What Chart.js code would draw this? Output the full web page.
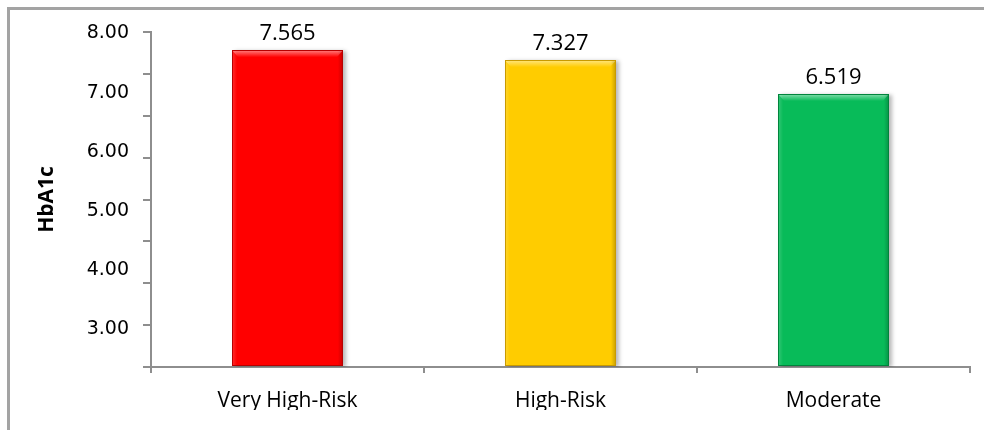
<!DOCTYPE html>
<html>
<head>
<meta charset="utf-8">
<title>HbA1c by risk group</title>
<script src="https://cdn.jsdelivr.net/npm/chart.js@4.4.1/dist/chart.umd.min.js"></script>
<style>
  html, body { margin: 0; padding: 0; background: #ffffff; }
  #frame {
    position: absolute; left: 7px; top: 7px; width: 977px; height: 423px;
    box-sizing: border-box; border-left: 3px solid #a3a3a3; border-top: 3px solid #a3a3a3;
  }
  #clip { position: absolute; left: 0; top: 0; width: 984px; height: 410px; overflow: hidden; }
  #holder { position: relative; width: 984px; height: 430px; }
</style>
</head>
<body>
<div id="frame"></div>
<div id="clip"><div id="holder"><canvas id="chart"></canvas></div></div>
<script>
// Mean HbA1c per cardiovascular risk group
const categories = ['Very High-Risk', 'High-Risk', 'Moderate'];
const hba1cValues = [7.565, 7.327, 6.519];
const yTickLabels = ['3.00', '4.00', '5.00', '6.00', '7.00', '8.00'];

const barColors = ['#ff0000', '#ffcc00', '#08bb59'];
const barEdgeColors = ['#b80000', '#c99a00', '#00843c'];

// Bevel highlight and edge shading on each bar
const bevelPlugin = {
  id: 'bevel',
  beforeDatasetsDraw(chart) {
    const ctx = chart.ctx;
    ctx.save();
    ctx.shadowColor = 'rgba(0,0,0,0.28)';
    ctx.shadowBlur = 4;
    ctx.shadowOffsetX = 3;
    ctx.shadowOffsetY = 1;
  },
  afterDatasetsDraw(chart) {
    const ctx = chart.ctx;
    ctx.restore();
    const meta = chart.getDatasetMeta(0);
    meta.data.forEach((bar, i) => {
      const left = bar.x - bar.width / 2;
      const right = bar.x + bar.width / 2;
      const top = bar.y;
      const bottom = bar.base;
      ctx.save();
      // top bevel
      const g = ctx.createLinearGradient(0, top, 0, top + 7);
      g.addColorStop(0, 'rgba(255,255,255,0.5)');
      g.addColorStop(1, 'rgba(255,255,255,0)');
      ctx.fillStyle = g;
      ctx.beginPath();
      ctx.moveTo(left, top);
      ctx.lineTo(right, top);
      ctx.lineTo(right - 6, top + 7);
      ctx.lineTo(left + 6, top + 7);
      ctx.closePath();
      ctx.fill();
      // side shading
      const gl = ctx.createLinearGradient(left, 0, left + 5, 0);
      gl.addColorStop(0, 'rgba(255,255,255,0.18)');
      gl.addColorStop(1, 'rgba(255,255,255,0)');
      ctx.fillStyle = gl;
      ctx.fillRect(left, top + 1, 5, bottom - top - 1);
      const gr = ctx.createLinearGradient(right - 5, 0, right, 0);
      gr.addColorStop(0, 'rgba(0,0,0,0)');
      gr.addColorStop(1, 'rgba(0,0,0,0.22)');
      ctx.fillStyle = gr;
      ctx.fillRect(right - 5, top + 1, 5, bottom - top - 1);
      // outline
      ctx.strokeStyle = barEdgeColors[i];
      ctx.lineWidth = 1;
      ctx.strokeRect(Math.round(left) + 0.5, Math.round(top) + 0.5,
                     Math.round(right - left) - 1, Math.round(bottom - top) - 1);
      ctx.restore();
    });
  }
};

// Value printed above each bar
const valueLabelPlugin = {
  id: 'valueLabels',
  afterDatasetsDraw(chart) {
    const ctx = chart.ctx;
    const meta = chart.getDatasetMeta(0);
    ctx.save();
    ctx.fillStyle = '#000000';
    ctx.font = '22px "Open Sans"';
    ctx.textAlign = 'center';
    ctx.textBaseline = 'alphabetic';
    meta.data.forEach((bar, i) => {
      ctx.fillText(hba1cValues[i].toFixed(3), bar.x, bar.y - 10);
    });
    ctx.restore();
  }
};

const axisGray = '#8e8e8e';

new Chart(document.getElementById('chart'), {
  type: 'bar',
  data: {
    labels: categories,
    datasets: [{
      data: hba1cValues,
      backgroundColor: barColors,
      borderWidth: 0,
      categoryPercentage: 1.0,
      barPercentage: 0.406
    }]
  },
  options: {
    responsive: true,
    maintainAspectRatio: false,
    devicePixelRatio: 1,
    animation: false,
    layout: { padding: { top: 32, right: 14, left: 0, bottom: 0 } },
    plugins: { legend: { display: false }, tooltip: { enabled: false } },
    scales: {
      x: {
        offset: true,
        grid: { display: true, offset: true, drawOnChartArea: false, drawTicks: true,
                tickLength: 6, color: axisGray, lineWidth: 2 },
        border: { display: true, color: axisGray, width: 2 },
        ticks: { color: '#000000', font: { family: 'Open Sans', size: 21 }, padding: 15,
                 maxRotation: 0, autoSkip: false },
        afterFit(scale) { scale.height = 63; }
      },
      y: {
        position: 'left',
        weight: 0,
        min: 0,
        max: 8,
        ticks: { display: false, stepSize: 1 },
        grid: { display: true, drawOnChartArea: false, drawTicks: true,
                tickLength: 8, color: axisGray, lineWidth: 2 },
        border: { display: true, color: axisGray, width: 2 },
        afterFit(scale) { scale.width = 8; }
      },
      yl: {
        position: 'left',
        weight: 1,
        min: 2.3645,
        max: 8.0236,
        grid: { display: false, drawTicks: false },
        border: { display: false },
        afterBuildTicks(scale) {
          scale.ticks = yTickLabels.map(t => ({ value: parseFloat(t) }));
        },
        ticks: {
          color: '#000000',
          font: { family: 'DejaVu Sans', size: 19 },
          padding: 14,
          callback(value) {
            const hit = yTickLabels.find(t => parseFloat(t) === value);
            return hit !== undefined ? hit : '';
          }
        },
        title: {
          display: true,
          text: 'HbA1c',
          color: '#000000',
          font: { family: 'Open Sans', size: 21, weight: 'bold' },
          padding: { top: 34, bottom: 0 }
        },
        afterFit(scale) { scale.width = 143; }
      }
    }
  },
  plugins: [bevelPlugin, valueLabelPlugin]
});
</script>
</body>
</html>
